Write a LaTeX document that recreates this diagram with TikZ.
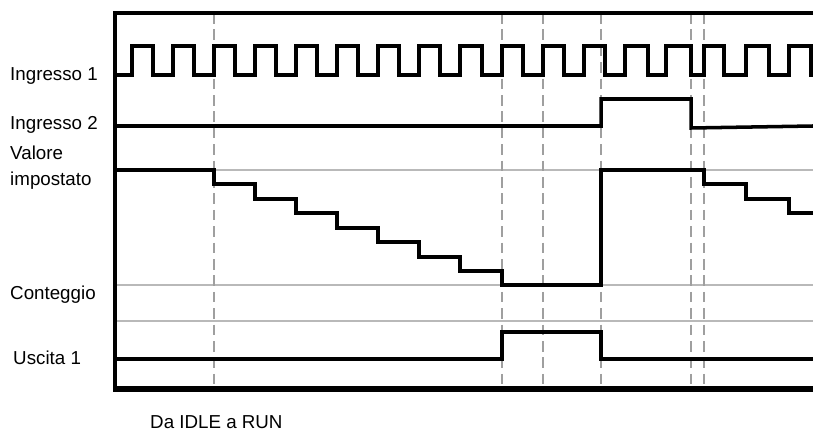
\documentclass[tikz,border=0pt]{standalone}
\usepackage{fontspec}
\setmainfont{Liberation Sans}
\usepackage{tikz}
\tikzset{
  signal/.style={line width=3pt, draw=black, line join=miter},
  frameline/.style={line width=3.4pt, draw=black},
  frameline bottom/.style={line width=4.6pt, draw=black},
  levelline/.style={line width=1pt, draw=gray!55},
  marker/.style={line width=1pt, draw=gray!75, dash pattern=on 9pt off 5pt},
  siglabel/.style={anchor=base west, inner sep=0pt, align=left,
                   font=\fontsize{16}{22}\selectfont},
}

\begin{document}
\begin{tikzpicture}[x=0.03cm, y=-0.03cm]
  \useasboundingbox (0,0) rectangle (813,432);

  % level lines
  \draw[levelline] (115,170) -- (813,170);
  \draw[levelline] (115,285) -- (813,285);
  \draw[levelline] (115,321) -- (813,321);

  % event markers
  \draw[marker] (214,13) -- (214,389);
  \draw[marker] (502,13) -- (502,389);
  \draw[marker] (543,13) -- (543,389);
  \draw[marker] (601,13) -- (601,389);
  \draw[marker] (691,13) -- (691,389);
  \draw[marker] (704,13) -- (704,389);

  % frame
  \draw[frameline] (813,13) -- (115,13) -- (115,389);
  \draw[frameline bottom] (113,389) -- (813,389);

  % Ingresso 1 (clock)
  \draw[signal] (115,75)
    -- (132,75) -- (132,46) -- (153,46) -- (153,75)
    -- (173,75) -- (173,46) -- (194,46) -- (194,75)
    -- (214,75) -- (214,46) -- (235,46) -- (235,75)
    -- (255,75) -- (255,46) -- (276,46) -- (276,75)
    -- (296,75) -- (296,46) -- (317,46) -- (317,75)
    -- (337,75) -- (337,46) -- (358,46) -- (358,75)
    -- (378,75) -- (378,46) -- (399,46) -- (399,75)
    -- (419,75) -- (419,46) -- (440,46) -- (440,75)
    -- (460,75) -- (460,46) -- (482,46) -- (482,75)
    -- (502,75) -- (502,46) -- (523,46) -- (523,75)
    -- (543,75) -- (543,46) -- (564,46) -- (564,75)
    -- (584,75) -- (584,46) -- (605,46) -- (605,75)
    -- (625,75) -- (625,46) -- (648,46) -- (648,75)
    -- (666,75) -- (666,46) -- (691,46) -- (691,75)
    -- (704,75) -- (704,46) -- (724,46) -- (724,75)
    -- (746,75) -- (746,46) -- (769,46) -- (769,75)
    -- (789,75) -- (789,46) -- (811,46) -- (811,75) -- (813,75);

  % Ingresso 2
  \draw[signal] (115,126) -- (601,126) -- (601,99) -- (691,99)
    -- (691,128) -- (813,126);

  % Valore impostato / Conteggio
  \draw[signal] (115,170) -- (214,170)
    -- (214,184) -- (255,184) -- (255,199) -- (296,199)
    -- (296,213) -- (337,213) -- (337,228) -- (378,228)
    -- (378,242) -- (419,242) -- (419,257) -- (460,257)
    -- (460,271) -- (502,271) -- (502,285) -- (601,285)
    -- (601,170) -- (704,170) -- (704,184) -- (746,184)
    -- (746,199) -- (789,199) -- (789,213) -- (813,213);

  % Uscita 1
  \draw[signal] (115,359) -- (502,359) -- (502,332) -- (601,332)
    -- (601,359) -- (813,359);

  % labels
  \node[siglabel] (in1) at (10,80.5) {Ingresso 1};
  \node[siglabel] (in2) at (10,130) {Ingresso 2};
  \node[siglabel] (preset) at (10,185.5) {Valore\\impostato};
  \node[siglabel] (count) at (10,299.5) {Conteggio};
  \node[siglabel] (out1) at (13,364.5) {Uscita 1};
  \node[siglabel] (mode) at (150,428.5) {Da IDLE a RUN};
\end{tikzpicture}
\end{document}
